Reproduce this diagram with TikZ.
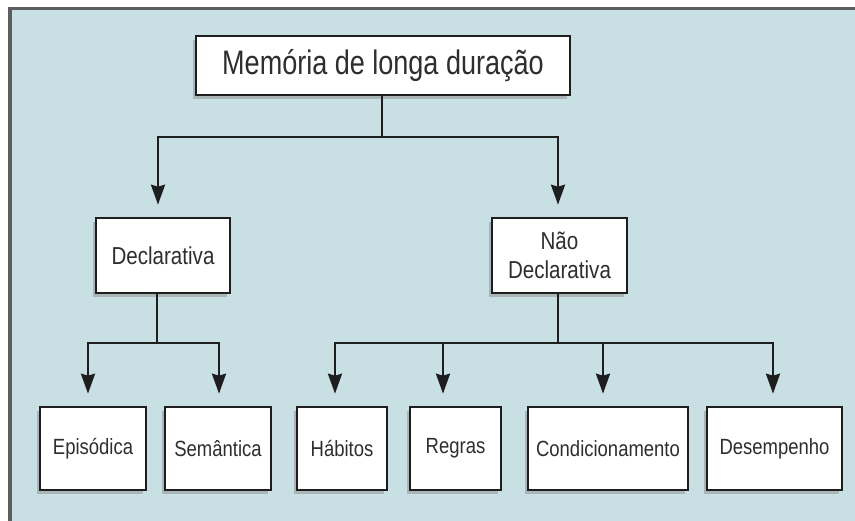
\documentclass[tikz,border=0pt]{standalone}
\usepackage{fontspec}
\setmainfont{Liberation Sans}[FakeStretch=0.84]
\newfontfamily\topfont{Liberation Sans}[FakeStretch=0.795]
\usetikzlibrary{arrows.meta,shadows}
\definecolor{bgblue}{HTML}{C8E0E4}
\definecolor{ink}{HTML}{1E1E1E}
\definecolor{txt}{HTML}{2E2E2E}
\definecolor{frame}{HTML}{5E5E5E}
\begin{document}
\begin{tikzpicture}[x=1pt,y=-1pt,
  box/.style={draw=ink, line width=2.6pt, fill=white, inner sep=0pt, align=center, text=txt,
    drop shadow={shadow xshift=-3pt,shadow yshift=-4pt,fill=black!40,opacity=0.6}},
  conn/.style={draw=ink, line width=2.4pt},
  arr/.style={conn, -{Stealth[length=20pt,width=14pt,inset=2pt]}, shorten >=12pt},
  big/.style={font=\topfont\fontsize{34}{38}\selectfont},
  mid/.style={font=\fontsize{24.5}{29}\selectfont},
  small/.style={font=\fontsize{22}{24}\selectfont}]
\useasboundingbox (0,0) rectangle (855,521);
\fill[white] (0,0) rectangle (855,521);
\fill[bgblue] (9,8) rectangle (855,521);
\draw[frame, line width=3.5pt] (10,521) -- (10,8.5) -- (855,8.5);

\node[box, big, minimum width=374pt, minimum height=59pt] (top) at (383,65.5) {Memória de longa duração};
\node[box, mid, minimum width=134pt, minimum height=75pt] (decl) at (163,255.5) {Declarativa};
\node[box, mid, minimum width=135pt, minimum height=75pt] (ndecl) at (559.5,255.5) {Não\\Declarativa};

\node[box, small, minimum width=106pt, minimum height=83pt] (epi) at (93,448.5) {Episódica};
\node[box, small, minimum width=106pt, minimum height=83pt] (sem) at (218,448.5) {Semântica};
\node[box, small, minimum width=90pt, minimum height=83pt] (hab) at (342,448.5) {Hábitos};
\node[box, small, minimum width=91pt, minimum height=83pt] (reg) at (455.5,448.5) {Regras};
\node[box, small, minimum width=160pt, minimum height=83pt] (cond) at (608,448.5) {Condicionamento};
\node[box, small, minimum width=135pt, minimum height=83pt] (des) at (774.5,448.5) {Desempenho};

% level 1
\coordinate (j0) at (382,137);
\coordinate (jL) at (158,137);
\coordinate (jR) at (558,137);
\draw[conn] (top.south -| j0) -- (j0);
\draw[arr] (j0) -- (jL) -- (jL |- decl.north);
\draw[arr] (j0) -- (jR) -- (jR |- ndecl.north);

% level 2 left
\coordinate (k0) at (157,343);
\coordinate (kL) at (88,343);
\coordinate (kR) at (219,343);
\draw[conn] (decl.south -| k0) -- (k0);
\draw[arr] (k0) -- (kL) -- (kL |- epi.north);
\draw[arr] (k0) -- (kR) -- (kR |- sem.north);

% level 2 right
\coordinate (m0) at (558,343);
\coordinate (m1) at (335,343);
\coordinate (m2) at (443,343);
\coordinate (m3) at (603,343);
\coordinate (m4) at (773,343);
\draw[conn] (ndecl.south -| m0) -- (m0);
\draw[arr] (m0) -- (m1) -- (m1 |- hab.north);
\draw[arr] (m1) -- (m2) -- (m2 |- reg.north);
\draw[arr] (m0) -- (m3) -- (m3 |- cond.north);
\draw[arr] (m0) -- (m4) -- (m4 |- des.north);
\end{tikzpicture}
\end{document}
